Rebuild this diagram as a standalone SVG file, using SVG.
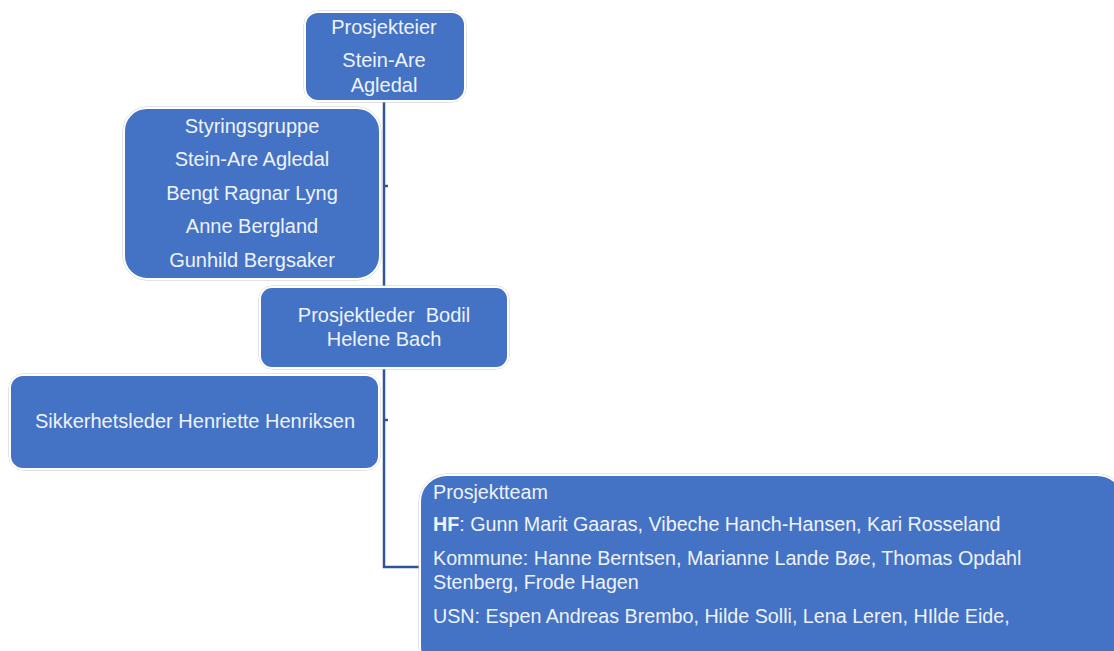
<svg xmlns="http://www.w3.org/2000/svg" width="1114" height="651" viewBox="0 0 1114 651">
<style>
.box{fill:#4472C4;stroke:#FFFFFF;stroke-width:2}
.halo{fill:none;stroke:#C8C8C8;stroke-width:1}
.t{font-family:"Liberation Sans",Arial,sans-serif;font-size:20px;fill:#EEF2FA}
.s{font-size:19.7px}
.c{text-anchor:middle}
.conn{fill:none;stroke:#2F5597;stroke-width:2.5}
</style>
<rect width="1114" height="651" fill="#FFFFFF"/>
<g id="connectors">
<path class="conn" d="M384,101 V567 H421"/>
<path class="conn" d="M384,186 H388 M384,420 H388" stroke-width="1.5"/>
</g>
<g id="prosjekteier">
<rect class="halo" x="304" y="11" width="162" height="91" rx="14"/>
<rect class="box" x="305" y="12" width="160" height="89" rx="13"/>
<text class="t c" x="384" y="34">Prosjekteier</text>
<text class="t c" x="384" y="67">Stein-Are</text>
<text class="t c" x="384" y="92">Agledal</text>
</g>
<g id="styringsgruppe">
<rect class="halo" x="123" y="107" width="258" height="173" rx="24"/>
<rect class="box" x="124" y="108" width="256" height="171" rx="23"/>
<text class="t c" x="252" y="133">Styringsgruppe</text>
<text class="t c" x="252" y="166">Stein-Are Agledal</text>
<text class="t c" x="252" y="200">Bengt Ragnar Lyng</text>
<text class="t c" x="252" y="233">Anne Bergland</text>
<text class="t c" x="252" y="267">Gunhild Bergsaker</text>
</g>
<g id="prosjektleder">
<rect class="halo" x="259" y="286" width="250" height="83" rx="13"/>
<rect class="box" x="260" y="287" width="248" height="81" rx="12"/>
<text class="t c" x="384" y="322" xml:space="preserve">Prosjektleder  Bodil</text>
<text class="t c" x="384" y="346">Helene Bach</text>
</g>
<g id="sikkerhetsleder">
<rect class="halo" x="9" y="374" width="371" height="96" rx="14"/>
<rect class="box" x="10" y="375" width="369" height="94" rx="13"/>
<text class="t c" x="195" y="428">Sikkerhetsleder Henriette Henriksen</text>
</g>
<g id="prosjektteam">
<rect class="halo" x="419" y="474" width="706" height="200" rx="28"/>
<rect class="box" x="420" y="475" width="704" height="198" rx="27"/>
<text class="t s" x="433" y="499">Prosjektteam</text>
<text class="t s" x="433" y="531"><tspan font-weight="bold">HF</tspan>: Gunn Marit Gaaras, Vibeche Hanch-Hansen, Kari Rosseland</text>
<text class="t s" x="433" y="565">Kommune: Hanne Berntsen, Marianne Lande Bøe, Thomas Opdahl</text>
<text class="t s" x="433" y="589">Stenberg, Frode Hagen</text>
<text class="t s" x="433" y="623">USN: Espen Andreas Brembo, Hilde Solli, Lena Leren, HIlde Eide,</text>
</g>
</svg>
